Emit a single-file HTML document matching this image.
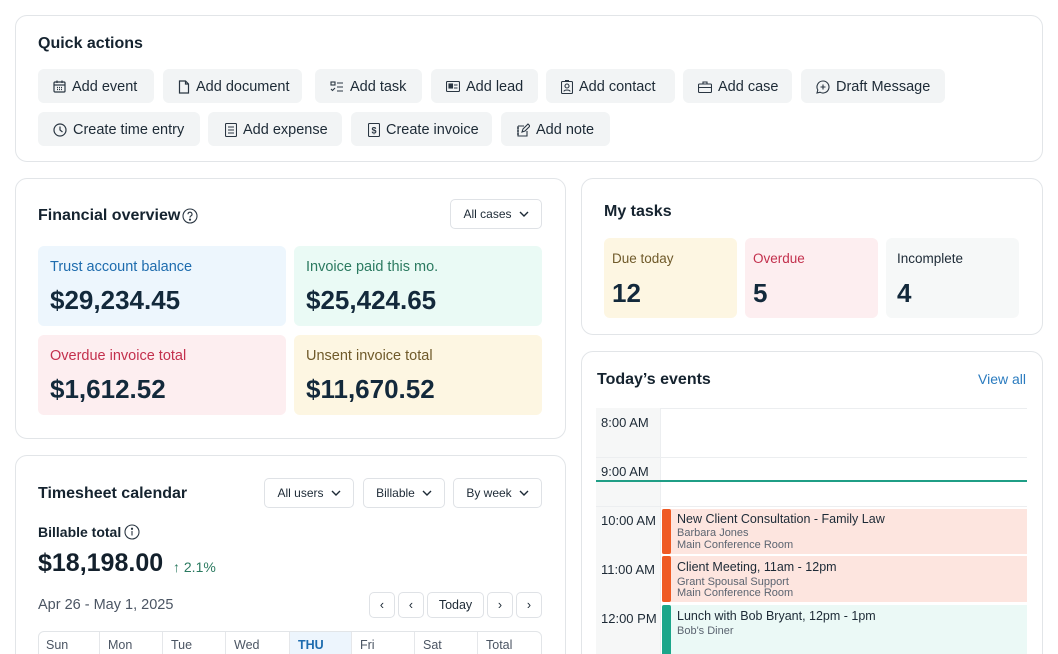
<!DOCTYPE html>
<html><head><meta charset="utf-8">
<style>
*{box-sizing:border-box;margin:0;padding:0}
html,body{width:1058px;height:654px;overflow:hidden;background:#fff;font-family:"Liberation Sans",sans-serif;color:#15283a}
#wrap{position:relative;width:1058px;height:654px;overflow:hidden}
.abs{position:absolute}
.card{position:absolute;border:1px solid #e2e5e8;border-radius:12px;background:#fff}
.h{position:absolute;font-size:16px;font-weight:700;color:#15232f}
.btn{position:absolute;height:34px;background:#f2f4f5;border-radius:6px;font-size:14.5px;color:#1d2a36;display:flex;align-items:center;padding-left:15px;padding-top:1px;white-space:nowrap}
.btn svg{margin-right:6px;flex:none}
.dd{position:absolute;height:30px;border:1px solid #dfe2e6;border-radius:5px;font-size:12px;color:#1d2a36;display:flex;align-items:center;justify-content:center;background:#fff}
.dd svg{margin-left:7px}
.tile{position:absolute;border-radius:6px}
.tile .l{position:absolute;left:12px;top:13px;font-size:14.5px}
.tile .v{position:absolute;left:12px;top:39px;font-size:26px;font-weight:700;color:#13293b}
.nb{position:absolute;top:592px;height:26px;border:1px solid #dfe2e6;border-radius:5px;font-size:12.5px;display:flex;align-items:center;justify-content:center;color:#1d2a36}
.th{position:absolute;top:632px;height:30px;font-size:12.5px;color:#4b5563;padding:6px 0 0 8px;border-right:1px solid #e5e7ea}
.tl{position:absolute;left:601px;font-size:13px;color:#1d2a36}
.ev{position:absolute;left:662px;width:365px}
.ev .bar{position:absolute;left:0;top:0;bottom:0;width:9px;border-radius:2px}
.ev .t{position:absolute;left:15px;font-size:12.5px;color:#1d2a36;white-space:nowrap}
.ev .s{position:absolute;left:15px;font-size:11px;color:#5b6470;white-space:nowrap;line-height:12px}
</style></head><body><div id="wrap">

<!-- Quick actions -->
<div class="card" style="left:15px;top:15px;width:1028px;height:147px"></div>
<div class="h" style="left:38px;top:35px">Quick actions</div>

<div class="btn" style="left:38px;top:69px;width:116px"><svg width="13" height="13" viewBox="0 0 13 13" fill="none" stroke="#2a3642" stroke-width="1.2"><rect x="1" y="2" width="11" height="10" rx="1"/><line x1="1" y1="5" x2="12" y2="5"/><line x1="4" y1="0.5" x2="4" y2="3"/><line x1="9" y1="0.5" x2="9" y2="3"/><path d="M4 7.5h1M6 7.5h1M8 7.5h1M4 9.5h1M6 9.5h1M8 9.5h1"/></svg>Add event</div>
<div class="btn" style="left:163px;top:69px;width:139px"><svg width="12" height="14" viewBox="0 0 12 14" fill="none" stroke="#2a3642" stroke-width="1.2"><path d="M1.5 1h6l3 3v9h-9z"/><path d="M7.5 1v3h3"/></svg>Add document</div>
<div class="btn" style="left:315px;top:69px;width:107px"><svg width="14" height="12" viewBox="0 0 14 12" fill="none" stroke="#2a3642" stroke-width="1.1"><rect x="1" y="1" width="4" height="3"/><path d="M1 8l1.5 1.5L5 7"/><path d="M7 2h6M7 6h6M7 10h6"/></svg>Add task</div>
<div class="btn" style="left:431px;top:69px;width:107px"><svg width="14" height="11" viewBox="0 0 14 11" fill="none" stroke="#2a3642" stroke-width="1.1"><rect x="0.5" y="0.5" width="13" height="10" rx="1"/><rect x="3" y="3" width="3.5" height="4" fill="#2a3642"/><path d="M8 4h3.5M8 7h3.5"/></svg>Add lead</div>
<div class="btn" style="left:546px;top:69px;width:129px"><svg width="12" height="14" viewBox="0 0 12 14" fill="none" stroke="#2a3642" stroke-width="1.1"><rect x="0.5" y="1.5" width="11" height="12" rx="1"/><circle cx="6" cy="6" r="2"/><path d="M3 11.5c0-2 6-2 6 0"/><path d="M4 0.5h4"/></svg>Add contact</div>
<div class="btn" style="left:683px;top:69px;width:109px"><svg width="14" height="12" viewBox="0 0 14 12" fill="none" stroke="#2a3642" stroke-width="1.1"><rect x="0.5" y="3" width="13" height="8.5" rx="1"/><path d="M5 3V1h4v2M0.5 6.5h13"/></svg>Add case</div>
<div class="btn" style="left:801px;top:69px;width:144px"><svg width="14" height="14" viewBox="0 0 14 14" fill="none" stroke="#2a3642" stroke-width="1.1"><path d="M7 1a6 6 0 1 1-3 11.2L1 13l.8-3A6 6 0 0 1 7 1z"/><path d="M7 4.5v5M4.5 7h5"/></svg>Draft Message</div>

<div class="btn" style="left:38px;top:112px;width:162px"><svg width="14" height="14" viewBox="0 0 14 14" fill="none" stroke="#2a3642" stroke-width="1.2"><circle cx="7" cy="7" r="6"/><path d="M7 3.5V7l2.5 2"/></svg>Create time entry</div>
<div class="btn" style="left:208px;top:112px;width:134px;padding-left:17px"><svg width="12" height="14" viewBox="0 0 12 14" fill="none" stroke="#2a3642" stroke-width="1.1"><rect x="0.5" y="0.5" width="11" height="13" rx="1"/><path d="M3 4h6M3 7h6M3 10h6"/></svg>Add expense</div>
<div class="btn" style="left:351px;top:112px;width:141px;padding-left:17px"><svg width="12" height="14" viewBox="0 0 12 14" fill="none" stroke="#2a3642" stroke-width="1.1"><rect x="0.5" y="0.5" width="11" height="13" rx="1"/><text x="6" y="10.5" font-size="9" text-anchor="middle" fill="#2a3642" stroke="none" font-family="Liberation Sans" font-weight="700">$</text></svg>Create invoice</div>
<div class="btn" style="left:501px;top:112px;width:109px"><svg width="14" height="14" viewBox="0 0 14 14" fill="none" stroke="#2a3642" stroke-width="1.1"><path d="M2 3h6M2 3v10h9V8"/><path d="M1 5h2M1 8h2M1 11h2"/><path d="M6 9l1-3 5-5 2 2-5 5z"/></svg>Add note</div>

<!-- Financial overview -->
<div class="card" style="left:15px;top:178px;width:551px;height:261px"></div>
<div class="h" style="left:38px;top:207px">Financial overview</div>
<svg class="abs" style="left:182px;top:208px" width="16" height="16" viewBox="0 0 16 16" fill="none" stroke="#2a3642" stroke-width="1.1"><circle cx="8" cy="8" r="7"/><path d="M6 6.2a2 2 0 1 1 2.8 1.8c-.6.3-.8.7-.8 1.3v.3"/><circle cx="8" cy="11.6" r=".6" fill="#2a3642"/></svg>
<div class="dd" style="left:450px;top:199px;width:92px">All cases<svg width="10" height="6" viewBox="0 0 10 6" fill="none" stroke="#1d2a36" stroke-width="1.4"><path d="M1 1l4 4 4-4"/></svg></div>

<div class="tile" style="left:38px;top:246px;width:248px;height:80px;background:#edf6fd"><div class="l" style="color:#1e6cae">Trust account balance</div><div class="v">$29,234.45</div></div>
<div class="tile" style="left:294px;top:246px;width:248px;height:80px;background:#eafaf5"><div class="l" style="color:#2b7a60">Invoice paid this mo.</div><div class="v">$25,424.65</div></div>
<div class="tile" style="left:38px;top:335px;width:248px;height:80px;background:#fdeef0"><div class="l" style="color:#c3304d">Overdue invoice total</div><div class="v">$1,612.52</div></div>
<div class="tile" style="left:294px;top:335px;width:248px;height:80px;background:#fdf6e2"><div class="l" style="color:#6f5a2a">Unsent invoice total</div><div class="v">$11,670.52</div></div>

<!-- Timesheet -->
<div class="card" style="left:15px;top:455px;width:551px;height:230px"></div>
<div class="h" style="left:38px;top:485px">Timesheet calendar</div>
<div class="dd" style="left:264px;top:478px;width:90px;height:30px">All users<svg width="10" height="6" viewBox="0 0 10 6" fill="none" stroke="#1d2a36" stroke-width="1.4"><path d="M1 1l4 4 4-4"/></svg></div>
<div class="dd" style="left:363px;top:478px;width:82px;height:30px">Billable<svg width="10" height="6" viewBox="0 0 10 6" fill="none" stroke="#1d2a36" stroke-width="1.4"><path d="M1 1l4 4 4-4"/></svg></div>
<div class="dd" style="left:453px;top:478px;width:89px;height:30px">By week<svg width="10" height="6" viewBox="0 0 10 6" fill="none" stroke="#1d2a36" stroke-width="1.4"><path d="M1 1l4 4 4-4"/></svg></div>
<div class="abs" style="left:38px;top:524px;font-size:14px;font-weight:700;color:#15232f">Billable total</div>
<svg class="abs" style="left:124px;top:524px" width="16" height="16" viewBox="0 0 16 16" fill="none" stroke="#2a3642" stroke-width="1.1"><circle cx="8" cy="8" r="7"/><path d="M8 7v4.5"/><circle cx="8" cy="4.8" r=".6" fill="#2a3642"/></svg>
<div class="abs" style="left:38px;top:549px;font-size:25px;font-weight:700;color:#13202c">$18,198.00</div>
<div class="abs" style="left:173px;top:559px;font-size:14px;color:#2b7a60">&#8593; 2.1%</div>
<div class="abs" style="left:38px;top:597px;font-size:14.5px;color:#4b5563">Apr 26 - May 1, 2025</div>
<div class="nb" style="left:369px;width:26px">&#8249;</div>
<div class="nb" style="left:398px;width:26px">&#8249;</div>
<div class="nb" style="left:427px;width:57px">Today</div>
<div class="nb" style="left:487px;width:26px">&#8250;</div>
<div class="nb" style="left:516px;width:26px">&#8250;</div>
<div class="abs" style="left:38px;top:631px;width:504px;height:40px;border:1px solid #e2e5e8;border-radius:6px"></div>
<div class="th" style="left:38px;width:62px">Sun</div>
<div class="th" style="left:100px;width:63px">Mon</div>
<div class="th" style="left:163px;width:63px">Tue</div>
<div class="th" style="left:226px;width:64px">Wed</div>
<div class="th" style="left:290px;width:62px;background:#edf5fd;color:#1e6cae;font-weight:700">THU</div>
<div class="th" style="left:352px;width:63px">Fri</div>
<div class="th" style="left:415px;width:63px">Sat</div>
<div class="th" style="left:478px;width:63px;border-right:none">Total</div>

<!-- My tasks -->
<div class="card" style="left:581px;top:178px;width:462px;height:157px"></div>
<div class="h" style="left:604px;top:203px">My tasks</div>
<div class="tile" style="left:604px;top:238px;width:133px;height:80px;background:#fdf6e2"><div class="l" style="left:8px;top:13px;font-size:13.5px;color:#6f5a2a">Due today</div><div class="v" style="left:8px;top:40px">12</div></div>
<div class="tile" style="left:745px;top:238px;width:133px;height:80px;background:#fdeef0"><div class="l" style="left:8px;top:13px;font-size:13.5px;color:#c3304d">Overdue</div><div class="v" style="left:8px;top:40px">5</div></div>
<div class="tile" style="left:886px;top:238px;width:133px;height:80px;background:#f6f8f8"><div class="l" style="left:11px;top:13px;font-size:13.5px;color:#1d2a36">Incomplete</div><div class="v" style="left:11px;top:40px">4</div></div>

<!-- Today's events -->
<div class="card" style="left:581px;top:351px;width:462px;height:330px"></div>
<div class="h" style="left:597px;top:371px">Today’s events</div>
<div class="abs" style="left:978px;top:371px;font-size:14px;color:#2a7bbf">View all</div>

<div class="abs" style="left:596px;top:408px;width:431px;height:1px;background:#eceef0"></div>
<div class="abs" style="left:596px;top:408px;width:65px;height:246px;background:#f6f7f7;border-right:1px solid #eceef0"></div>
<div class="abs" style="left:596px;top:457px;width:431px;height:1px;background:#eceef0"></div>
<div class="abs" style="left:596px;top:506px;width:431px;height:1px;background:#eceef0"></div>
<div class="tl" style="top:415px">8:00 AM</div>
<div class="tl" style="top:464px">9:00 AM</div>
<div class="abs" style="left:596px;top:480px;width:431px;height:2px;background:#1f9e86"></div>
<div class="tl" style="top:513px">10:00 AM</div>
<div class="tl" style="top:562px">11:00 AM</div>
<div class="tl" style="top:611px">12:00 PM</div>

<div class="ev" style="top:509px;height:45px;background:#fde5df"><div class="bar" style="background:#ef5a24"></div><div class="t" style="top:3px">New Client Consultation - Family Law</div><div class="s" style="top:18px">Barbara Jones</div><div class="s" style="top:30px">Main Conference Room</div></div>
<div class="ev" style="top:556px;height:46px;background:#fde5df"><div class="bar" style="background:#ef5a24"></div><div class="t" style="top:4px">Client Meeting, 11am - 12pm</div><div class="s" style="top:20px">Grant Spousal Support</div><div class="s" style="top:31px">Main Conference Room</div></div>
<div class="ev" style="top:605px;height:60px;background:#ebf9f6"><div class="bar" style="background:#1ba68a"></div><div class="t" style="top:4px">Lunch with Bob Bryant, 12pm - 1pm</div><div class="s" style="top:20px">Bob's Diner</div></div>

</div></body></html>
